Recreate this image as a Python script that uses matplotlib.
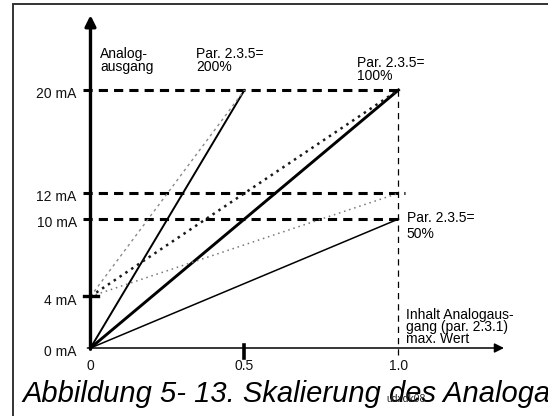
import matplotlib.pyplot as plt
from matplotlib.patches import Rectangle

plt.rcParams["font.family"] = ["Liberation Sans", "DejaVu Sans"]

# Kennlinien: Analogausgang (mA) ueber Inhalt Analogausgang (0..1)
ma_levels = [0, 4, 10, 12, 20]
ma_labels = ["0 mA", "4 mA", "10 mA", "12 mA", "20 mA"]
x_ticks = [0, 0.5, 1.0]
x_tick_labels = ["0", "0.5", "1.0"]

# 0..20 mA Kennlinien (durchgezogen)
solid_x = {"200%": [0.0, 0.5], "100%": [0.0, 1.0], "50%": [0.0, 1.0]}
solid_y = {"200%": [0, 20], "100%": [0, 20], "50%": [0, 10]}
# 4..20 mA Kennlinien (gepunktet)
dotted_x = {"200%": [0.0, 0.5], "100%": [0.0, 1.0], "50%": [0.0, 1.0]}
dotted_y = {"200%": [4, 20], "100%": [4, 20], "50%": [4, 12]}
# gestrichelte Hilfslinien
dash_levels = [20, 12, 10]
dash_ends = [1.0, 1.02, 1.0]

fig = plt.figure(figsize=(5.48, 4.16), dpi=100)
ax = fig.add_axes([0, 0, 1, 1])
ax.set_xlim(-0.2938, 1.4854)
ax.set_ylim(-5.271, 26.977)
ax.axis("off")

# Rahmen
fig.add_artist(Rectangle((13 / 548, -0.05), 1.0, 412 / 416 + 0.05,
                         transform=fig.transFigure, fill=False,
                         lw=1.4, ec="#333333"))

# gestrichelte Hilfslinien
for lvl, end in zip(dash_levels, dash_ends):
    ax.plot([-0.025, end], [lvl, lvl], color="black", lw=2.2,
            linestyle=(0, (3, 2)), solid_capstyle="butt")
ax.plot([1.0, 1.0], [20, -0.6], color="black", lw=0.9,
        linestyle=(0, (5, 4)))

# durchgezogene Linien
ax.plot(solid_x["200%"], solid_y["200%"], color="black", lw=1.4)
ax.plot(solid_x["100%"], solid_y["100%"], color="black", lw=2.1)
ax.plot(solid_x["50%"], solid_y["50%"], color="black", lw=1.1)

# gepunktete Linien
ax.plot(dotted_x["200%"], dotted_y["200%"], color="#8a8a8a", lw=1.0,
        linestyle=(0, (2, 2.5)))
ax.plot(dotted_x["100%"], dotted_y["100%"], color="#1a1a1a", lw=1.8,
        linestyle=(0, (1, 1.8)))
ax.plot(dotted_x["50%"], dotted_y["50%"], color="#777777", lw=1.1,
        linestyle=(0, (1, 2.5)))

# Achsen mit Pfeilen
ax.annotate("", xy=(0, 25.8), xytext=(0, -0.1),
            arrowprops=dict(arrowstyle="-|>", lw=2.4, color="black",
                            mutation_scale=16, shrinkA=0, shrinkB=0))
ax.annotate("", xy=(1.3425, 0), xytext=(-0.01, 0),
            arrowprops=dict(arrowstyle="-|>", lw=1.1, color="black",
                            mutation_scale=14, shrinkA=0, shrinkB=0))

# Markierungen
ax.plot([-0.02, 0.025], [4, 4], color="black", lw=2.4)
ax.plot([0.5, 0.5], [-0.8, 0.25], color="black", lw=2.6)

# Achsenbeschriftungen
for lvl, lab in zip(ma_levels, ma_labels):
    ax.annotate(lab, xy=(-0.045, lvl), xytext=(0, -3),
                textcoords="offset points", ha="right", va="center",
                fontsize=10, color="#111111")
for xt, lab in zip(x_ticks, x_tick_labels):
    ax.annotate(lab, xy=(xt, 0), xytext=(0, -13),
                textcoords="offset points", ha="center", va="center",
                fontsize=10, color="#111111")

ax.text(0.032, 23.3, "Analog-\nausgang", ha="left", va="top",
        fontsize=10, linespacing=0.85)
ax.text(0.344, 23.3, "Par. 2.3.5=\n200%", ha="left", va="top",
        fontsize=10, linespacing=0.85)
ax.text(0.864, 22.6, "Par. 2.3.5=\n100%", ha="left", va="top",
        fontsize=10, linespacing=0.85)
ax.text(1.026, 10.6, "Par. 2.3.5=\n50%", ha="left", va="top",
        fontsize=10, linespacing=1.15)
ax.text(1.023, 3.1, "Inhalt Analogaus-\ngang (par. 2.3.1)\nmax. Wert",
        ha="left", va="top", fontsize=10, linespacing=0.82)

# Bildunterschrift
fig.text(22 / 548, 14 / 416, "Abbildung 5- 13. Skalierung des Analogausgangs",
         ha="left", va="baseline", fontsize=21, style="italic")
fig.text(386 / 548, 14 / 416, "udxdk08", ha="left", va="baseline",
         fontsize=7.5, color="#222222")

fig.savefig("out.png", dpi=100)
